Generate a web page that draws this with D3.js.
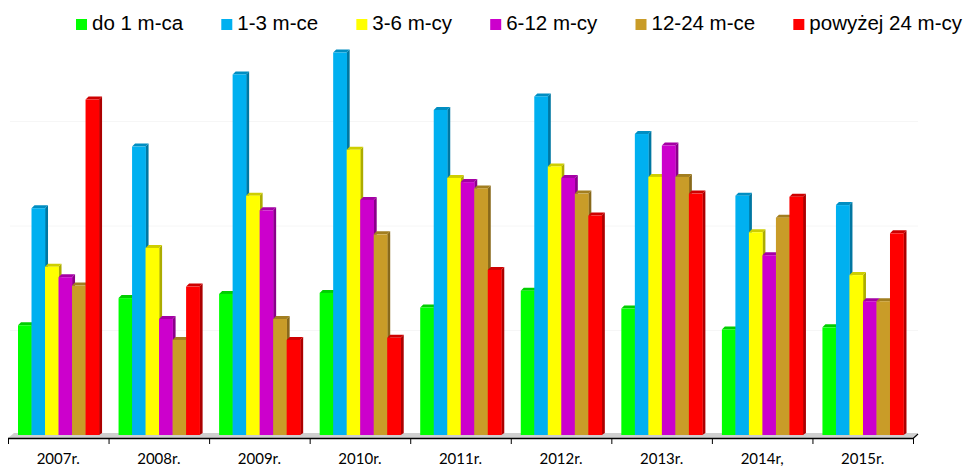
<!DOCTYPE html>
<html>
<head>
<meta charset="utf-8">
<script src="https://cdn.jsdelivr.net/npm/d3@7"></script>
<style>
  body { margin: 0; background: #fff; }
  svg { display: block; }
</style>
</head>
<body>
<svg id="chart" width="967" height="468"></svg>
<script>
// categories and series
const years = ['2007r.', '2008r.', '2009r.', '2010r.', '2011r.', '2012r.', '2013r.', '2014r,', '2015r.'];
const seriesNames = ['do 1 m-ca', '1-3 m-ce', '3-6 m-cy', '6-12 m-cy', '12-24 m-ce', 'powyżej 24 m-cy'];
const seriesColors = ['#00ff00', '#00b0f0', '#ffff00', '#cc00cc', '#c99c28', '#ff0000'];

const do1 =     [105, 131, 135, 136, 122, 138, 121, 101, 103];
const m1_3 =    [217, 276, 345, 366, 311, 324, 288, 229, 220];
const m3_6 =    [161, 179, 229, 273, 246, 257, 247, 194, 153];
const m6_12 =   [151, 111, 215, 225, 242, 246, 277, 172, 128];
const m12_24 =  [143,  91, 111, 192, 236, 231, 247, 208, 128];
const pow24 =   [321, 142,  91,  93, 158, 210, 231, 228, 193];
const seriesValues = [do1, m1_3, m3_6, m6_12, m12_24, pow24];
const gridTicks = [100, 200, 300];

const svg = d3.select('#chart');
const depth = 3;

const x = d3.scaleBand().domain(years).range([8, 913]).paddingInner(0).paddingOuter(0);
const xs = d3.scaleBand().domain(d3.range(seriesNames.length)).range([10, x.bandwidth() - 9.5]);
const y = d3.scaleLinear().domain([0, 400]).range([435, 17]);

// faint gridlines
svg.append('g')
    .selectAll('line')
    .data(gridTicks)
    .enter()
    .append('line')
    .attr('x1', 10).attr('x2', 918)
    .attr('y1', d => y(d)).attr('y2', d => y(d))
    .attr('stroke', '#f6f6f6')
    .attr('stroke-width', 1);

// floor
svg.append('polygon')
    .attr('points', [[8, 438], [912, 438], [918, 433], [14, 433]].join(' '))
    .attr('fill', '#cfcfcf');

// bars, drawn left to right so each front face covers the previous side face
const groups = svg.append('g')
    .selectAll('g')
    .data(years)
    .enter()
    .append('g')
    .attr('transform', d => `translate(${x(d)},0)`);

groups.each(function (year, yi) {
    const g = d3.select(this);
    seriesValues.forEach((vals, si) => {
        const c = seriesColors[si];
        const x0 = xs(si);
        const w = xs.bandwidth();
        const top = y(vals[yi]);
        const base = y(0);
        // side face
        g.append('polygon')
            .attr('points', [[x0 + w, top], [x0 + w + depth, top - depth], [x0 + w + depth, base - depth + 1], [x0 + w, base]].join(' '))
            .attr('fill', d3.color(c).darker(1.1));
        // top face
        g.append('polygon')
            .attr('points', [[x0, top], [x0 + depth, top - depth], [x0 + w + depth, top - depth], [x0 + w, top]].join(' '))
            .attr('fill', d3.color(c).darker(0.6));
        // front face
        g.append('rect')
            .attr('x', x0)
            .attr('y', top)
            .attr('width', w + 0.3)
            .attr('height', base - top)
            .attr('fill', c);
    });
});

// x axis
const axis = svg.append('g')
    .attr('transform', 'translate(0,438)')
    .call(d3.axisBottom(x).tickSize(0).tickPadding(15));
axis.select('.domain').remove();
axis.selectAll('text')
    .attr('fill', '#000')
    .style('font-family', 'Lato, "Open Sans", sans-serif')
    .style('font-size', '15px');

svg.append('line')
    .attr('x1', 8).attr('x2', 913)
    .attr('y1', 438.5).attr('y2', 438.5)
    .attr('stroke', '#000').attr('stroke-width', 1.3);
svg.append('line')
    .attr('x1', 913).attr('x2', 918)
    .attr('y1', 438.5).attr('y2', 434)
    .attr('stroke', '#000').attr('stroke-width', 1.2);
svg.append('g')
    .selectAll('line')
    .data(years.map(d => x(d)).concat([x.range()[1]]))
    .enter()
    .append('line')
    .attr('x1', d => d + 0.5).attr('x2', d => d + 0.5)
    .attr('y1', 438).attr('y2', 444)
    .attr('stroke', '#000').attr('stroke-width', 1);

// legend: spread items between x=76 and x=962
const legend = svg.append('g');
const items = seriesNames.map((name, i) => {
    const item = legend.append('g');
    item.append('rect')
        .attr('x', 0).attr('y', 19)
        .attr('width', 11).attr('height', 11)
        .attr('fill', seriesColors[i]);
    const t = item.append('text')
        .attr('x', 16).attr('y', 30)
        .attr('fill', '#000')
        .style('font-family', '"Liberation Sans", Arial, sans-serif')
        .style('font-size', '20.5px')
        .text(name);
    return { item, w: 16 + t.node().getComputedTextLength() };
});
const totalW = d3.sum(items, d => d.w);
const gap = (962 - 76 - totalW) / (items.length - 1);
let lx = 76;
items.forEach(d => {
    d.item.attr('transform', `translate(${lx},0)`);
    lx += d.w + gap;
});
</script>
</body>
</html>
